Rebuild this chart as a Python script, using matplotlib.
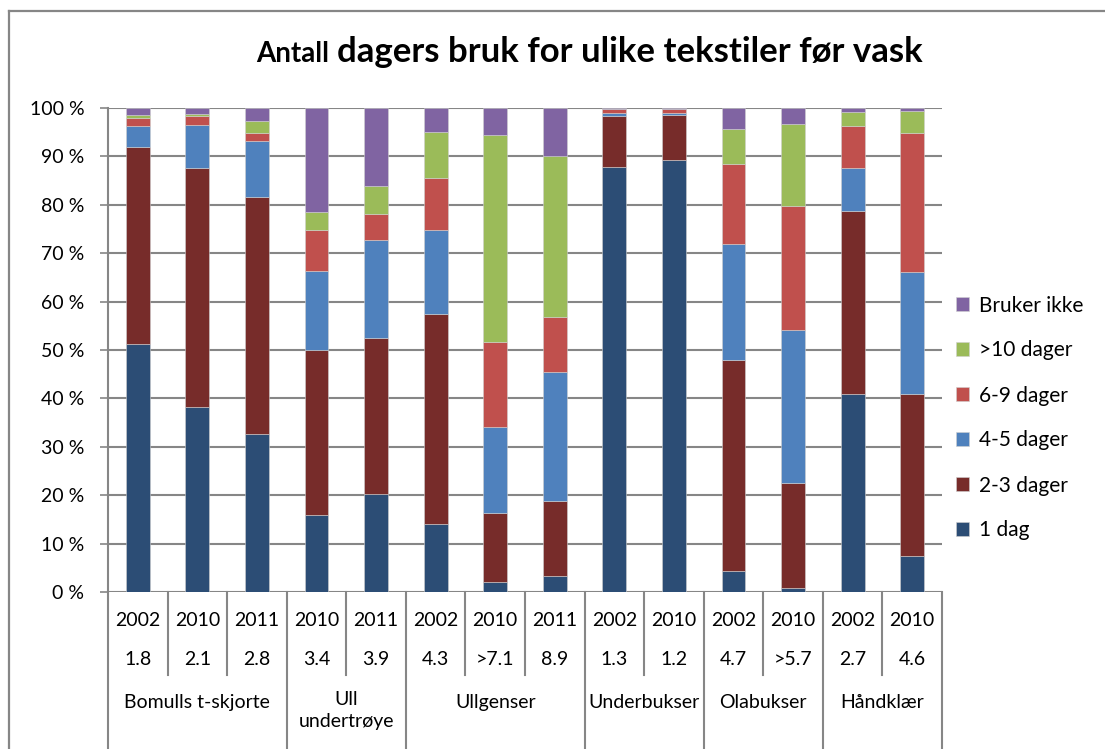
import matplotlib
matplotlib.use("Agg")
import matplotlib.pyplot as plt
from matplotlib.lines import Line2D
import numpy as np

plt.rcParams['font.family'] = ['Lato', 'DejaVu Sans']

years = ["2002", "2010", "2011", "2010", "2011", "2002", "2010", "2011",
         "2002", "2010", "2002", "2010", "2002", "2010"]
avg_days = ["1.8", "2.1", "2.8", "3.4", "3.9", "4.3", ">7.1", "8.9",
            "1.3", "1.2", "4.7", ">5.7", "2.7", "4.6"]
groups = ["Bomulls t-skjorte", "Ull\nundertrøye", "Ullgenser", "Underbukser",
          "Olabukser", "Håndklær"]
group_sizes = [3, 2, 3, 2, 2, 2]

series_names = ["1 dag", "2-3 dager", "4-5 dager", "6-9 dager", ">10 dager", "Bruker ikke"]
dag1 = [51.2, 38.2, 32.6, 16.0, 20.3, 14.0, 2.0, 3.4, 87.8, 89.3, 4.3, 0.8, 41.0, 7.5]
dager2_3 = [40.7, 49.4, 49.0, 33.9, 32.1, 43.5, 14.4, 15.5, 10.6, 9.3, 43.6, 21.8, 37.7, 33.5]
dager4_5 = [4.4, 8.9, 11.5, 16.5, 20.3, 17.2, 17.6, 26.6, 0.5, 0.4, 23.9, 31.5, 9.0, 25.2]
dager6_9 = [1.6, 1.8, 1.7, 8.3, 5.5, 10.9, 17.6, 11.3, 0.8, 0.7, 16.7, 25.7, 8.6, 28.6]
dager10 = [0.6, 0.5, 2.6, 3.8, 5.6, 9.4, 42.9, 33.3, 0.1, 0.0, 7.1, 16.9, 2.9, 4.6]
bruker_ikke = [1.5, 1.2, 2.6, 21.5, 16.2, 5.0, 5.5, 9.9, 0.2, 0.3, 4.4, 3.3, 0.8, 0.6]

colors = ["#2C4D75", "#772C2A", "#4F81BD", "#C0504D", "#9BBB59", "#8064A2"]

W, H = 1105, 749
fig = plt.figure(figsize=(W / 100, H / 100), dpi=100)
ax = fig.add_axes([108 / W, 1 - 592 / H, 834 / W, 484 / H])

data = [dag1, dager2_3, dager4_5, dager6_9, dager10, bruker_ikke]
n = len(years)
x = np.arange(n)
bottom = np.zeros(n)
handles = []
for vals, c, name in zip(data, colors, series_names):
    v = np.array(vals)
    b = ax.bar(x, v, 0.4, bottom=bottom, color=c, label=name,
               edgecolor="#d0d0d0", linewidth=0.4, zorder=3)
    handles.append(b)
    bottom += v

ax.set_xlim(-0.5, n - 0.5)
ax.set_ylim(0, 100)
ax.set_yticks(np.arange(0, 101, 10))
ax.set_yticklabels([f"{v} %" for v in range(0, 101, 10)], fontsize=14)
ax.yaxis.grid(True, color="#868686", linewidth=1.5, zorder=0)
ax.set_axisbelow(True)
for s in ["top", "right", "bottom"]:
    ax.spines[s].set_visible(False)
ax.spines["left"].set_color("#868686")
ax.spines["left"].set_linewidth(1.5)
ax.tick_params(axis="y", length=6, width=1.2, color="#868686", pad=11)
ax.set_xticks([])

# category table below axis
tr = ax.get_xaxis_transform()
y_year, y_val, y_grp = -0.058, -0.14, -0.229
for i in range(n):
    ax.text(i, y_year, years[i], transform=tr, ha="center", va="center", fontsize=14)
    ax.text(i, y_val, avg_days[i], transform=tr, ha="center", va="center", fontsize=14)

bounds = np.cumsum([0] + group_sizes)
for g, name in enumerate(groups):
    center = (bounds[g] + bounds[g + 1] - 1) / 2
    if "\n" in name:
        ax.text(center, -0.205, name, transform=tr, ha="center", va="top",
                fontsize=14, linespacing=1.35)
    else:
        ax.text(center, y_grp, name, transform=tr, ha="center", va="center", fontsize=14)

# separators
line_kw = dict(color="#868686", linewidth=1.5, transform=tr, clip_on=False)
for k in range(n + 1):
    xb = k - 0.5
    if k in bounds:
        ax.plot([xb, xb], [0, -0.35], **line_kw)
    else:
        ax.plot([xb, xb], [0, -0.171], **line_kw)

# title
fig.text(329 / W, 1 - 62 / H, "Antall", fontsize=20, fontweight="bold", ha="right", va="baseline")
fig.text(337 / W, 1 - 62 / H, "dagers bruk for ulike tekstiler før vask", fontsize=25,
         fontweight="bold", ha="left", va="baseline")

# legend
fig.legend(handles[::-1], series_names[::-1], loc="center left",
           bbox_to_anchor=(937 / W, 1 - 418 / H), frameon=False, fontsize=15,
           labelspacing=1.2, handlelength=0.65, handleheight=0.65, handletextpad=0.45)

# outer border (left and top edges)
fig.add_artist(Line2D([8.5 / W, 8.5 / W], [0, 1 - 10.5 / H], transform=fig.transFigure,
                      color="#868686", linewidth=1.6))
fig.add_artist(Line2D([8.5 / W, 1], [1 - 10.5 / H, 1 - 10.5 / H], transform=fig.transFigure,
                      color="#868686", linewidth=1.6))

fig.savefig("out.png", dpi=100)
